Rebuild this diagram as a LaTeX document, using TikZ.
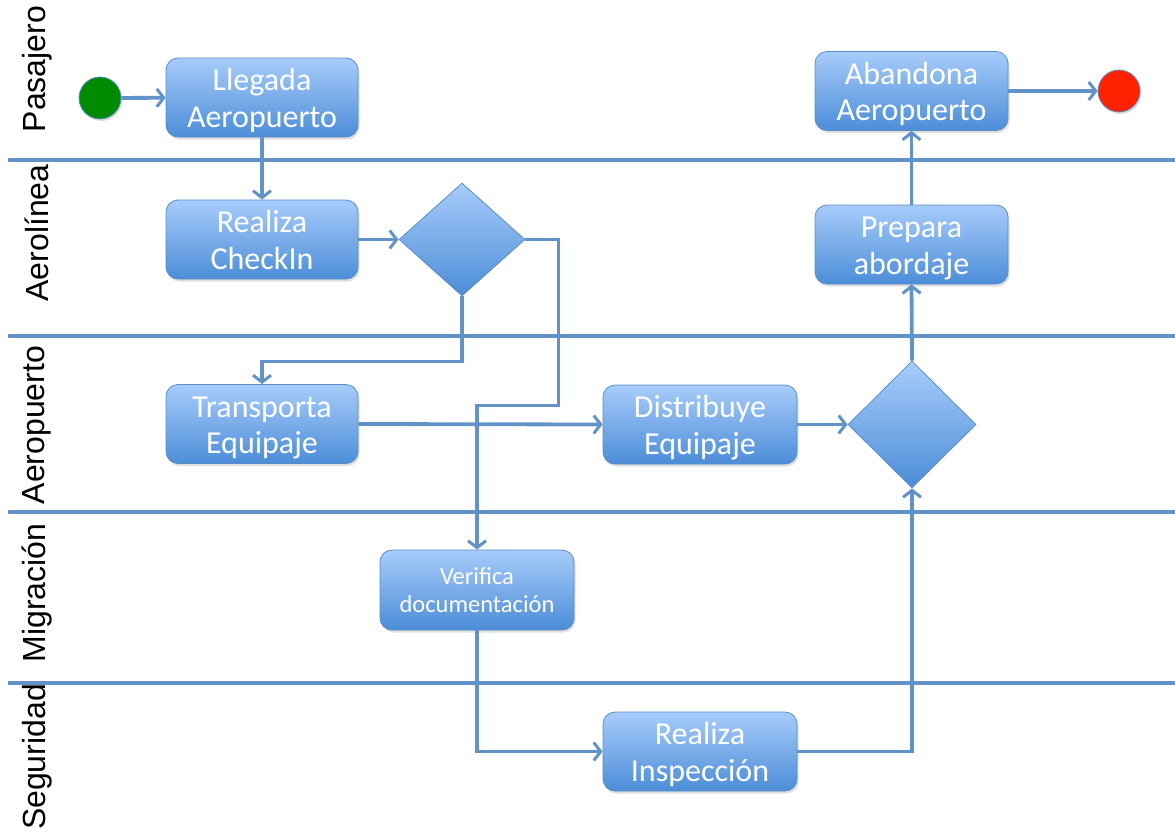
\documentclass[tikz,border=0pt]{standalone}
\usepackage{fontspec}
\setmainfont{Liberation Sans}
\newfontfamily\boxfont{Carlito}
\usetikzlibrary{arrows.meta,shapes.geometric,shadows}

\definecolor{flowline}{HTML}{6193C9}
\definecolor{boxtop}{HTML}{A7CCFA}
\definecolor{boxbot}{HTML}{4C8DD8}
\definecolor{boxedge}{HTML}{5B8DC6}
\definecolor{startgreen}{HTML}{008A00}
\definecolor{endred}{HTML}{FF2200}

\begin{document}
\begin{tikzpicture}[x=1pt,y=-1pt,
  lane/.style={draw=flowline,line width=3.2pt},
  lanelabel/.style={rotate=90,font=\fontsize{32}{34}\selectfont,text=black},
  % two-line activity: text box measured from the last baseline
  activity/.style={rectangle,rounded corners=12pt,draw=boxedge,line width=0.8pt,
    top color=boxtop,bottom color=boxbot,text=white,align=center,
    minimum width=192pt,minimum height=79pt,inner sep=0pt,
    font=\boxfont\fontsize{32}{36.5}\selectfont,
    text height=69pt,text depth=10pt,
    drop shadow={opacity=0.25,shadow xshift=1.5pt,shadow yshift=-2.5pt}},
  smallactivity/.style={activity,font=\boxfont\fontsize{24.5}{28}\selectfont,
    text height=62pt,text depth=18pt},
  decision/.style={diamond,draw=boxedge,line width=0.8pt,
    top color=boxtop,bottom color=boxbot,inner sep=0pt},
  terminal/.style={circle,draw=boxedge,line width=0.8pt,minimum size=42pt,inner sep=0pt,
    drop shadow={opacity=0.25,shadow xshift=1.5pt,shadow yshift=-2pt}},
  conn/.style={draw=flowline,line width=3.8pt,
    -{Straight Barb[length=7pt,width=18pt,line width=3pt]}}
]
\useasboundingbox (0,0) rectangle (1175,835);

% swimlane separators
\foreach \yy/\nm in {160/l1,336/l2,512/l3,683/l4}{
  \coordinate (\nm a) at (8,\yy);
  \coordinate (\nm b) at (1175,\yy);
  \draw[lane] (\nm a) -- (\nm b);
}

% swimlane titles
\node[lanelabel] (lpas) at (37,69) {Pasajero};
\node[lanelabel] (laer) at (37,233) {Aerolínea};
\node[lanelabel] (lapt) at (37,425) {Aeropuerto};
\node[lanelabel] (lmig) at (37,593) {Migración};
\node[lanelabel] (lseg) at (37,757) {Seguridad};

% activities
\node[terminal,fill=startgreen] (start) at (100,98) {};
\node[activity] (llegada) at (262,97.5) {Llegada\\Aeropuerto};
\node[activity] (checkin) at (262,239.5) {Realiza\\CheckIn};
\node[decision,minimum width=126pt,minimum height=113pt] (d1) at (462,239.5) {};
\node[activity] (transp) at (262,424) {Transporta\\Equipaje};
\node[activity,minimum width=194pt] (distr) at (700,424.5) {Distribuye\\Equipaje};
\node[decision,minimum width=128pt,minimum height=127pt] (d2) at (912,424.5) {};
\node[smallactivity,minimum width=194pt,minimum height=80pt] (verif) at (477,590) {Verifica\\documentación};
\node[activity,minimum width=194pt] (insp) at (700,751.5) {Realiza\\Inspección};
\node[activity,minimum width=193pt,minimum height=78pt] (prep) at (911.5,244.5) {Prepara\\abordaje};
\node[activity,minimum width=193pt,minimum height=78pt] (aband) at (911.5,91) {Abandona\\Aeropuerto};
\node[terminal,fill=endred] (stop) at (1119,91) {};

% control flow
\draw[conn] (start) -- (llegada);
\draw[conn] (llegada) -- (checkin);
\draw[conn] (checkin.east) -- (d1.west);
\draw[conn] (d1.south) -- ++(0,65) -| (transp.north);
\draw[conn] (d1.east) -| ++(33,166) -| (verif.north);
\draw[conn] (transp.east) -- (distr.west);
\draw[conn] (distr.east) -- (d2.west);
\draw[conn] (verif.south) |- (insp.west);
\draw[conn] (insp.east) -| (d2.south);
\draw[conn] (d2.north) -- (prep.south);
\draw[conn] (prep.north) -- (aband.south);
\draw[conn] (aband.east) -- (stop.west);
\end{tikzpicture}
\end{document}
